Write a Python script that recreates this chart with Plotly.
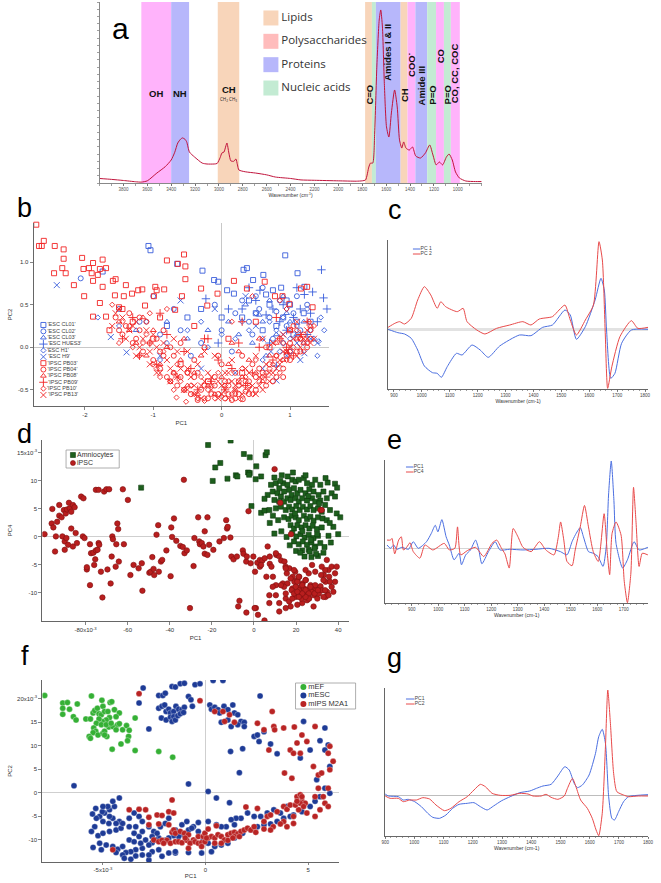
import plotly.graph_objects as go

W, H = 661, 883
FONT = "Liberation Sans, Arial, sans-serif"
SANS2 = "Open Sans, Noto Sans, sans-serif"
NARROW = "Liberation Sans Narrow, Arial Narrow, Liberation Sans, sans-serif"

# ======================= DATA =======================
# ---- panel a : FTIR spectrum ----
SPEC_WN = [4000, 3900, 3800, 3700, 3650, 3600, 3520, 3450, 3400, 3370, 3345, 3320, 3305, 3285, 3270, 3247,
           3205, 3140, 3100, 3040, 3015, 2990, 2975, 2958, 2942, 2933, 2917, 2900, 2875, 2858, 2845, 2833,
           2780, 2693, 2600, 2528, 2400, 2313, 2200, 2000, 1850, 1800, 1772, 1745, 1731, 1712, 1696, 1678,
           1658, 1645, 1631, 1615, 1597, 1577, 1556, 1529, 1507, 1488, 1469, 1453, 1434, 1406, 1379, 1352,
           1312, 1271, 1235, 1208, 1181, 1154, 1127, 1095, 1073, 1046, 1019, 987, 933, 852, 800]
SPEC_ABS = [0.025, 0.02, 0.014, 0.007, 0.005, 0.012, 0.055, 0.09, 0.127, 0.17, 0.221, 0.243, 0.249, 0.242, 0.227, 0.171,
            0.144, 0.11, 0.105, 0.105, 0.108, 0.14, 0.166, 0.171, 0.205, 0.221, 0.166, 0.122, 0.12, 0.133, 0.10, 0.072,
            0.062, 0.055, 0.045, 0.033, 0.025, 0.017, 0.015, 0.012, 0.010, 0.012, 0.017, 0.088, 0.11, 0.11, 0.276, 0.64,
            0.90, 0.956, 0.862, 0.55, 0.31, 0.254, 0.387, 0.514, 0.42, 0.238, 0.193, 0.227, 0.193, 0.182, 0.199, 0.149,
            0.138, 0.166, 0.21, 0.155, 0.10, 0.116, 0.10, 0.144, 0.16, 0.127, 0.061, 0.028, 0.011, 0.008, 0.008]
A_TICKS = [3800, 3600, 3400, 3200, 3000, 2800, 2600, 2400, 2200, 2000, 1800, 1600, 1400, 1200, 1000]
A_TICKTEXT = ["3800", "3600", "3400", "3200", "3000", "2800", "2600", "2400", "2200", "2000", "1800", "1600", "1400", "1200", "1000"]

# band ranges (cm-1) and band class
BAND_LO = [3400, 3250, 2830, 1719, 1686, 1479, 1421, 1355, 1256, 1182, 1116, 1058, 983]
BAND_HI = [3650, 3400, 3010, 1776, 1719, 1686, 1479, 1421, 1355, 1256, 1182, 1116, 1058]
BAND_KIND = ["mag", "prot", "lip", "lip", "nuc", "prot", "lip", "mag", "prot", "nuc", "mag", "nuc", "mag"]
BAND_COLORS = {"mag": "#ffb3fb", "prot": "#b7b7fb", "lip": "#f8d5ba", "nuc": "#c3ebd3"}
A_LEGEND = ["Lipids", "Polysaccharides", "Proteins", "Nucleic acids"]
A_LEGEND_COLORS = ["#f8d5ba", "#ffbcbc", "#b7b7fb", "#c3ebd3"]

# ---- panel b : PCA scores (PC1, PC2) ----
B_LABELS = ["'ESC CL01'", "'ESC CL02'", "'ESC CL03'", "'ESC HUES3'", "'ESC H1'", "'ESC H9'",
            "'IPSC PB03'", "'IPSC PB04'", "'IPSC PB08'", "'IPSC PB09'", "'IPSC PB10'", "'IPSC PB13'"]
B_ESC_CL01 = [(-1.07, 1.19), (-1.04, 1.14), (-0.65, 0.98), (-0.28, 0.90), (-0.11, 0.79), (-0.05, 0.77), (0.32, 0.91),
              (0.37, 0.93), (0.93, 1.08), (1.11, 0.87), (1.21, 0.71), (0.87, 0.70), (0.08, 0.67), (0.18, 0.63),
              (0.46, 0.79), (0.61, 0.85), (0.75, 0.67), (-1.74, 0.89), (0.50, 0.40), (0.70, 0.50), (0.90, 0.35),
              (1.00, 0.50), (1.20, 0.40), (0.30, 0.35), (0.60, 0.20), (0.80, 0.25), (1.10, 0.30), (-0.30, 0.45),
              (-0.50, 0.35), (0.00, 0.35), (0.95, 0.55), (1.05, 0.15), (0.40, 0.55), (-0.80, 0.25), (1.30, 0.30),
              (0.65, 0.62)]
B_ESC_CL02 = [(-2.06, 0.81), (-1.50, 0.45), (-1.20, 0.30), (-0.90, 0.15), (-0.60, 0.20), (-0.30, 0.05), (0.00, 0.20),
              (0.20, 0.40), (0.40, 0.30), (0.55, 0.45), (0.70, 0.35), (0.85, 0.55), (0.95, 0.25), (1.05, 0.40),
              (1.15, 0.20), (1.25, 0.50), (0.60, 0.70), (0.30, 0.55), (-0.10, 0.50), (-0.70, 0.45), (0.75, 0.10),
              (0.90, 0.05), (1.00, -0.05), (0.45, 0.15), (0.15, -0.05), (-0.45, -0.10), (0.80, 0.42), (1.10, 0.60),
              (0.50, 0.60), (-1.00, 0.60)]
B_ESC_CL03 = [(-0.80, 0.30), (-0.50, 0.10), (0.10, 0.30), (0.35, 0.50), (0.60, 0.30), (0.80, 0.15), (0.95, 0.40),
              (1.10, 0.15), (1.20, 0.30), (0.70, 0.55), (0.45, 0.05), (-0.20, 0.20), (0.90, 0.60), (1.00, 0.30),
              (0.55, 0.38), (-1.25, 0.20), (0.25, 0.15), (0.65, -0.10)]
B_ESC_HUES3 = [(1.46, 0.91), (1.49, 0.58), (1.54, 0.45), (1.21, 0.62), (1.33, 0.65), (0.56, 0.67), (-0.23, 0.57),
               (0.10, 0.45), (0.50, 0.55), (0.75, 0.45), (0.90, 0.50), (1.05, 0.35), (1.15, 0.45), (1.30, 0.40),
               (1.40, 0.30), (0.85, 0.30), (0.65, 0.38), (0.30, 0.45), (-0.05, 0.05), (0.70, 0.05), (1.25, 0.15),
               (0.95, 0.20), (0.40, 0.70), (1.10, 0.70), (0.80, -0.22)]
B_ESC_H1 = [(1.42, 0.07), (-1.81, 0.35), (1.50, 0.20), (1.35, 0.10), (1.20, 0.05), (1.00, 0.10), (0.80, 0.20),
            (0.60, 0.10), (0.40, 0.20), (0.20, 0.10), (-0.20, 0.00), (-0.50, 0.20), (-0.80, 0.05), (-1.10, 0.30),
            (-1.50, 0.25), (0.90, 0.35), (1.10, 0.25), (1.30, 0.20), (0.70, 0.30), (0.50, 0.40), (0.30, 0.30),
            (0.00, 0.15), (1.45, 0.35), (1.25, 0.45), (0.95, 0.45), (-0.30, 0.30), (0.60, -0.15), (0.85, -0.05),
            (1.40, -0.10), (-0.90, -0.15)]
B_ESC_H9 = [(-2.41, 0.73), (-1.62, 0.12), (-1.39, -0.06), (0.80, -0.39), (1.21, -0.07), (1.30, 0.10), (1.10, 0.05),
            (0.95, -0.10), (0.60, -0.25), (0.20, -0.30), (-0.30, -0.25), (-0.90, -0.10), (0.50, 0.25), (0.90, 0.15),
            (1.40, 0.05), (-0.10, 0.45), (0.35, 0.60), (1.15, -0.15), (0.72, -0.05), (-0.60, 0.55)]
B_IPSC_PB03 = [(-2.71, 1.44), (-2.67, 1.19), (-2.63, 1.19), (-2.60, 1.25), (-2.44, 1.19), (-2.45, 0.87), (-2.33, 0.93),
               (-2.31, 1.15), (-2.31, 1.04), (-2.28, 0.87), (-2.16, 0.73), (-2.04, 1.05), (-2.02, 0.92), (-2.01, 0.60),
               (-1.94, 0.93), (-1.88, 0.99), (-1.90, 0.87), (-1.88, 0.78), (-1.81, 0.85), (-1.78, 0.92), (-1.74, 1.03),
               (-1.69, 0.93), (-1.74, 0.71), (-1.59, 0.78), (-1.55, 0.80), (-1.40, 0.73), (-1.43, 0.60), (-1.31, 0.63),
               (-1.22, 0.67), (-1.16, 0.68), (-1.12, 0.49), (-0.97, 0.71), (-0.95, 0.67), (-0.99, 0.60), (-0.84, 0.68),
               (-0.80, 1.02), (-0.68, 0.44), (-0.64, 0.98), (-0.55, 1.09), (-0.53, 0.95), (-0.53, 0.80), (-0.58, 0.60),
               (-0.30, 0.69), (-0.21, 0.49), (-0.06, 0.63), (0.18, 0.78), (0.37, 0.69), (0.63, 0.77), (0.78, 0.60),
               (0.89, 0.60), (1.16, 0.69), (1.25, 0.71), (0.99, 0.51), (1.33, 0.47), (-1.50, 0.47), (-1.64, 0.20),
               (-1.88, 0.36), (-1.78, 0.52), (-1.56, 0.61), (-1.69, 0.36), (-1.30, 0.30), (-1.00, 0.10), (-0.60, -0.20),
               (-0.20, -0.40), (0.30, -0.30), (0.70, 0.00), (1.00, 0.20), (-0.90, 0.35), (-0.40, 0.25), (0.10, 0.10),
               (0.50, 0.30), (-1.45, 0.45)]
B_IPSC_PB04 = [(-1.55, 0.35), (-1.45, 0.15), (-1.35, 0.40), (-1.30, 0.05), (-1.20, 0.20), (-1.15, -0.05), (-1.10, 0.30),
               (-1.00, -0.15), (-0.95, 0.10), (-0.90, -0.25), (-0.85, 0.20), (-0.80, -0.35), (-0.70, -0.10), (-0.65, -0.45),
               (-0.60, 0.05), (-0.50, -0.30), (-0.45, -0.55), (-0.40, -0.15), (-0.30, -0.50), (-0.25, 0.00), (-0.20, -0.60),
               (-0.10, -0.35), (-0.05, -0.55), (0.00, -0.20), (0.05, -0.60), (0.10, -0.45), (0.20, -0.30), (0.25, -0.55),
               (0.30, -0.10), (0.40, -0.40), (0.45, -0.20), (0.50, -0.50), (0.60, -0.30), (0.65, 0.00), (0.70, -0.20),
               (0.80, -0.10), (0.85, 0.10), (0.90, -0.25), (1.00, 0.05), (1.05, 0.25), (1.10, -0.05), (1.20, 0.15),
               (1.30, 0.20), (-0.75, -0.40), (0.35, -0.52), (0.15, -0.62), (-0.35, -0.62), (0.31, -0.61),
               (-1.40, 0.25), (-1.25, 0.10), (-0.90, -0.05), (-0.70, -0.30), (-0.55, -0.50), (-0.35, -0.30), (-0.15, -0.55),
               (0.05, -0.40), (0.25, -0.40), (0.40, -0.55), (0.55, -0.25), (0.75, -0.40), (0.95, -0.10), (1.15, 0.10),
               (1.25, 0.00), (-0.05, -0.10),
               (-1.50, 0.20), (-1.20, 0.35), (-1.05, 0.05), (-0.85, -0.10), (-0.75, 0.00), (-0.60, -0.35), (-0.40, -0.35),
               (-0.25, -0.45), (-0.10, -0.45), (0.10, -0.55), (0.20, -0.60), (0.35, -0.40), (0.50, -0.35), (0.65, -0.45),
               (0.80, -0.35), (0.90, -0.35), (1.00, -0.15), (1.15, -0.05), (1.30, 0.10)]
B_IPSC_PB08 = [(-1.50, 0.30), (-1.35, 0.20), (-1.25, 0.05), (-1.10, -0.10), (-1.00, 0.20), (-0.90, -0.20), (-0.80, 0.00),
               (-0.70, -0.30), (-0.60, -0.15), (-0.50, -0.45), (-0.40, -0.30), (-0.30, -0.10), (-0.20, -0.45), (-0.10, -0.55),
               (0.00, -0.35), (0.10, -0.20), (0.20, -0.50), (0.30, -0.35), (0.40, -0.15), (0.50, -0.30), (0.60, -0.40),
               (0.70, -0.10), (0.80, 0.05), (0.90, -0.15), (1.00, 0.20), (1.10, 0.10), (1.20, 0.05), (1.30, 0.25),
               (-0.55, 0.10), (0.15, 0.05), (0.55, 0.10), (-1.15, 0.35), (0.95, -0.05), (-0.35, -0.55), (0.25, -0.05)]
B_IPSC_PB09 = [(-1.45, 0.10), (-1.30, 0.35), (-1.20, -0.10), (-1.05, 0.05), (-0.95, -0.20), (-0.80, 0.15), (-0.65, -0.35),
               (-0.55, -0.05), (-0.45, -0.25), (-0.35, -0.50), (-0.25, 0.10), (-0.15, -0.40), (-0.05, -0.15), (0.05, -0.50),
               (0.15, -0.25), (0.25, 0.05), (0.35, -0.45), (0.45, -0.30), (0.55, 0.00), (0.65, -0.35), (0.75, -0.15),
               (0.85, 0.10), (0.95, 0.00), (1.05, -0.10), (1.15, 0.15), (1.25, 0.30), (-0.90, 0.40), (0.30, 0.30),
               (-0.20, 0.10), (0.80, 0.35)]
B_IPSC_PB10 = [(-1.60, 0.50), (-1.50, 0.05), (-1.35, 0.25), (-1.20, -0.10), (-1.10, 0.15), (-0.95, -0.25), (-0.85, -0.05),
               (-0.75, -0.40), (-0.65, -0.20), (-0.55, -0.50), (-0.50, -0.30), (-0.40, -0.55), (-0.30, -0.35), (-0.25, -0.60),
               (-0.15, -0.45), (-0.05, -0.30), (0.00, -0.58), (0.10, -0.40), (0.20, -0.55), (0.30, -0.25), (0.40, -0.45),
               (0.50, -0.15), (0.60, -0.35), (0.70, -0.25), (0.80, -0.10), (0.90, 0.05), (1.00, -0.05), (1.10, 0.20),
               (1.25, 0.05), (1.35, 0.25), (-0.66, -0.59), (-0.52, -0.64), (-0.25, -0.63), (0.95, 0.45), (0.85, 0.55),
               (1.28, 0.30), (-1.05, 0.40), (0.45, 0.60), (-0.80, 0.45), (0.15, 0.30), (0.28, -0.61),
               (-1.45, 0.30), (-1.30, 0.00), (-1.15, 0.05), (-1.00, -0.20), (-0.90, -0.35), (-0.70, -0.50), (-0.60, -0.40),
               (-0.45, -0.45), (-0.35, -0.60), (-0.20, -0.50), (-0.10, -0.60), (0.05, -0.45), (0.15, -0.55), (0.25, -0.45),
               (0.35, -0.35), (0.45, -0.55), (0.55, -0.40), (0.65, -0.30), (0.75, -0.20), (0.85, -0.30), (0.95, -0.15),
               (1.05, 0.00), (1.15, 0.10), (1.20, -0.05)]
B_IPSC_PB13 = [(-1.60, 0.25), (-1.50, 0.45), (-1.40, 0.10), (-1.30, 0.25), (-1.25, -0.10), (-1.15, 0.10), (-1.05, -0.20),
               (-1.00, 0.15), (-0.90, -0.30), (-0.85, 0.05), (-0.75, -0.40), (-0.70, 0.10), (-0.60, -0.25), (-0.55, -0.50),
               (-0.50, -0.05), (-0.40, -0.45), (-0.35, -0.20), (-0.30, -0.60), (-0.20, -0.30), (-0.15, -0.50), (-0.10, -0.10),
               (0.00, -0.45), (0.05, -0.30), (0.10, -0.60), (0.15, -0.15), (0.25, -0.40), (0.30, -0.55), (0.35, -0.25),
               (0.45, -0.45), (0.50, -0.10), (0.55, -0.35), (0.65, -0.20), (0.70, -0.40), (0.75, 0.05), (0.85, -0.15),
               (0.90, 0.15), (0.95, -0.05), (1.05, 0.10), (1.10, 0.30), (1.15, 0.00), (1.25, 0.20), (1.35, 0.10),
               (-0.25, -0.05), (0.20, -0.50), (0.60, 0.10), (-1.20, 0.00), (-1.05, -0.05), (-0.95, -0.30), (-0.75, -0.25),
               (-0.65, -0.05), (-0.45, -0.35), (-0.25, -0.40), (-0.05, -0.40), (0.10, -0.30), (0.20, -0.45), (0.40, -0.30),
               (0.55, -0.45), (0.75, -0.30), (0.85, -0.20), (1.00, -0.10), (1.20, 0.10), (1.30, 0.05), (-1.35, 0.20),
               (-1.55, 0.40), (-0.50, -0.50), (0.00, -0.55), (0.50, -0.55),
               (-1.45, 0.35), (-1.25, 0.30), (-1.10, 0.20), (-0.95, 0.00), (-0.80, -0.15), (-0.65, -0.35), (-0.50, -0.25),
               (-0.40, -0.55), (-0.30, -0.45), (-0.15, -0.35), (-0.05, -0.60), (0.05, -0.50), (0.15, -0.40), (0.30, -0.45),
               (0.40, -0.50), (0.60, -0.50), (0.70, -0.30), (0.80, -0.25), (0.90, -0.05), (1.00, 0.00), (1.10, -0.10),
               (1.25, 0.10)]
B_SERIES = [B_ESC_CL01, B_ESC_CL02, B_ESC_CL03, B_ESC_HUES3, B_ESC_H1, B_ESC_H9,
            B_IPSC_PB03, B_IPSC_PB04, B_IPSC_PB08, B_IPSC_PB09, B_IPSC_PB10, B_IPSC_PB13]
B_XTICKS = [-2, -1, 0, 1]
B_XTICKTEXT = ["-2", "-1", "0", "1"]
B_YTICKS = [-0.5, 0.0, 0.5, 1.0]
B_YTICKTEXT = ["-0.5", "0.0", "0.5", "1.0"]

# ---- panel c : loadings PC 1 / PC 2 ----
C_LABELS = ["PC 1", "PC 2"]
C_PC1_WN = [879, 914, 938, 962, 985, 1009, 1038, 1055, 1070, 1091, 1124, 1144, 1180, 1209, 1238, 1279, 1350, 1391,
            1433, 1468, 1513, 1532, 1554, 1586, 1621, 1642, 1654, 1662, 1677, 1692, 1716, 1751, 1811]
C_PC1 = [0, -10, -14, -27, -62, -110, -130, -132, -144, -112, -72, -77, -47, -62, -84, -50, -17, -19,
         6, 13, 58, 43, -30, 8, 88, 153, 118, -2, -147, -132, -42, -2, 0]
C_PC2_WN = [879, 903, 920, 938, 962, 985, 1009, 1032, 1055, 1068, 1085, 1127, 1148, 1162, 1197, 1226, 1268, 1315,
            1362, 1391, 1421, 1468, 1492, 1513, 1532, 1554, 1586, 1615, 1635, 1647, 1657, 1666, 1681, 1710, 1751, 1774, 1811]
C_PC2 = [6, 18, 23, 16, 33, 88, 128, 103, 63, 83, 68, 53, 63, 23, -2, -14, 3, 13,
         23, 13, 31, 38, 58, 73, 28, -17, 28, 73, 263, 208, -2, -177, -112, -22, 26, 3, 6]
WN_TICKS = [900, 1000, 1100, 1200, 1300, 1400, 1500, 1600, 1700, 1800]
WN_TICKTEXT = ["900", "1000", "1100", "1200", "1300", "1400", "1500", "1600", "1700", "1800"]

# ---- panel d : PC1 vs PC4 ----
D_LABELS = ["Amniocytes", "iPSC"]
D_AMNIO = [(-21.8, 16.4), (-11.1, 17.2), (-4.8, 14.8), (-2.0, 14.2), (5.5, 14.6), (6.1, 15.1), (-18.4, 12.4), (-16.0, 13.2),
           (-19.6, 10.0), (-12.6, 10.4), (-8.6, 11.0), (-7.9, 10.8), (-2.8, 11.5), (-2.0, 11.4), (-2.3, 11.1), (1.1, 12.6),
           (0.8, 10.3), (3.4, 10.8), (-1.2, 5.5), (3.4, 4.3), (5.0, 4.7), (7.3, 4.8), (9.7, 0.6), (9.7, 10.6), (13.2, 11.0),
           (-53.6, 8.8),
           (8.1, 9.3), (10.4, 9.6), (12.0, 8.7), (13.9, 9.6), (15.9, 9.3), (18.2, 10.2), (19.8, 9.9), (21.3, 10.2),
           (23.7, 10.5), (25.2, 9.6), (27.6, 9.3), (29.1, 10.2), (31.5, 9.3), (35.0, 9.7), (38.5, 9.5), (36.9, 7.8),
           (8.9, 8.1), (11.2, 7.8), (12.8, 7.2), (14.3, 8.1), (16.7, 8.4), (17.9, 7.5), (19.0, 8.7), (20.6, 7.8),
           (22.1, 8.4), (24.5, 7.8), (26.3, 8.5), (28.3, 8.1), (30.7, 7.5), (33.0, 8.1), (34.6, 6.9),
           (9.7, 6.6), (12.0, 6.3), (14.3, 6.3), (15.9, 6.9), (17.4, 6.6), (19.8, 6.9), (21.3, 6.3), (22.9, 6.9),
           (25.2, 6.5), (27.6, 6.9), (29.1, 6.3), (31.5, 6.5), (33.8, 5.7), (36.1, 4.8),
           (10.4, 5.1), (12.8, 5.4), (15.1, 4.8), (16.7, 5.4), (18.2, 4.9), (20.1, 5.5), (21.7, 4.8), (23.2, 5.4),
           (25.2, 4.9), (26.8, 5.5), (28.3, 4.8), (30.4, 5.1), (32.2, 4.5),
           (14.3, 3.5), (16.4, 3.2), (17.9, 3.8), (19.8, 3.5), (21.3, 3.0), (23.7, 3.8), (25.2, 3.2), (26.8, 3.6),
           (28.3, 2.9), (30.4, 3.5), (32.6, 3.3), (34.6, 3.0),
           (17.4, 2.1), (19.0, 1.5), (20.6, 2.1), (22.6, 1.7), (24.5, 2.1), (26.3, 1.5), (27.9, 2.0), (29.9, 1.4),
           (32.2, 1.7), (35.4, 0.2),
           (18.2, 0.7), (20.1, 0.1), (22.1, 0.5), (24.1, -0.1), (26.0, 0.4), (28.3, -0.2), (30.4, 0.2),
           (19.0, -0.8), (21.3, -1.3), (23.2, -0.8), (25.2, -1.4), (27.3, -1.0), (29.1, -1.7), (31.5, -1.1), (33.5, -1.8),
           (22.9, -2.4), (26.0, -2.3), (28.8, -2.0), (27.3, -3.6), (30.4, -3.4), (38.5, 7.2), (39.3, 4.2), (37.7, 1.8),
           (11.5, 3.0), (13.0, 1.0), (15.5, 0.0), (17.0, -1.5), (20.0, -2.5), (24.0, -3.5), (29.5, -3.0), (33.0, -2.8),
           (36.5, -1.0), (40.0, 0.5), (41.0, 3.5), (39.5, 8.8), (34.0, 10.5), (24.5, 11.0), (18.5, 11.5), (16.0, 10.8),
           (12.5, 10.0), (6.5, 7.5), (5.0, 6.8), (7.5, 2.5), (30.0, 0.5), (27.0, -0.5), (23.0, 1.0), (19.5, 4.2),
           (25.8, 7.3), (31.0, 6.0), (36.0, 2.5), (9.0, 3.8), (22.0, -2.8), (26.5, -2.6)]
D_IPSC = [(-99.5, 0.5), (-95.8, 5.0), (-96.1, 2.4), (-95.3, 1.7), (-94.1, 0.1), (-94.5, -2.6), (-93.5, 2.7), (-92.5, 3.8),
          (-92.5, 5.7), (-91.4, 3.5), (-91.0, 0.1), (-90.3, 4.8), (-89.9, -0.8), (-89.9, -2.3), (-89.4, 4.2), (-89.1, -0.2),
          (-88.8, 4.9), (-88.3, -1.4), (-87.9, 6.1), (-87.5, 5.1), (-86.8, 4.5), (-86.8, 1.5), (-86.0, 5.7), (-86.0, -1.7),
          (-85.2, 5.3), (-84.7, 0.7), (-84.1, -1.1), (-82.1, 7.2), (-81.0, 6.9), (-81.3, 0.1), (-80.5, -0.2), (-79.4, -5.8),
          (-79.4, -5.4), (-77.9, -1.3), (-77.9, -8.6), (-77.4, -2.9), (-76.3, -2.8), (-75.4, -4.0), (-75.1, -2.4),
          (-74.3, -2.3), (-75.1, 8.4), (-73.8, 8.4), (-73.8, -1.1), (-73.5, -1.4), (-72.7, -6.2), (-72.0, -10.8),
          (-75.9, -5.0), (-71.2, 8.1), (-70.1, 8.5), (-68.8, 8.5), (-69.6, -5.8), (-68.1, -8.3), (-67.6, -3.5),
          (-67.3, 0.1), (-67.0, -0.4), (-65.7, -5.3), (-65.4, -1.3), (-64.9, 2.4), (-64.5, 1.4), (-64.2, -4.4),
          (-62.3, 8.5), (-61.8, -1.3), (-59.9, 6.6), (-58.7, -6.8), (-57.2, -5.0), (-54.8, -5.6), (-53.3, -4.7),
          (-53.0, -9.6), (-49.7, -6.4), (-49.0, -6.2), (-48.3, -3.6), (-47.7, -5.7), (-47.4, -6.8), (-46.3, 0.4),
          (-45.5, 2.1), (-45.2, -6.2), (-44.2, -4.4), (-43.6, -4.1), (-41.6, -2.4), (-39.6, -7.0), (-39.3, 1.7),
          (-38.9, 0.0), (-38.0, 3.3), (-36.9, -0.7), (-35.0, -1.6), (-33.8, -1.8), (-33.3, 10.2), (-33.0, -2.9),
          (-31.9, -2.4), (-30.4, -12.7), (-28.7, -5.2), (-28.3, -0.2), (-26.5, 3.5), (-26.0, -0.8), (-25.7, -1.3),
          (-24.8, -1.1), (-24.0, -1.7), (-23.4, 1.0), (-23.4, -3.0), (-22.1, -3.2), (-22.1, 3.5), (-21.3, -1.4),
          (-19.3, -2.3), (-16.4, -0.8), (-14.3, -0.2), (-13.2, 3.0), (-12.8, 1.5), (-12.5, 1.8), (-11.2, -0.1),
          (-10.7, -3.5), (-9.7, -4.0), (-8.1, -3.5), (-6.9, -11.4), (-5.3, -2.4), (-5.0, -3.0), (-3.7, -4.4),
          (-3.4, -3.5), (-2.6, 4.6), (-1.6, -4.7), (-0.3, -3.5), (0.5, -6.2), (0.9, -12.7), (1.6, -4.6), (2.8, -5.3),
          (2.8, -4.1), (4.0, -4.2), (5.1, -3.8), (5.9, -7.1), (7.5, -4.8), (7.5, -3.5), (8.3, -5.3), (9.0, -7.1),
          (9.8, 12.1), (10.6, -3.2), (11.8, -3.4), (12.9, -4.2), (12.5, 6.1), (13.7, -8.3), (14.5, -4.4), (15.0, -5.3),
          (15.6, -6.5), (16.8, -5.6), (17.6, 0.5), (18.4, -7.1), (19.2, -8.0), (19.6, -6.2), (19.9, -8.9), (20.7, -7.7),
          (21.2, -9.5), (21.5, -7.1), (22.3, -10.7), (22.3, -8.9), (23.1, -8.3), (23.4, -9.8), (23.8, -9.2),
          (24.3, -10.4), (24.6, -7.7), (25.4, -9.4), (25.9, -10.1), (26.2, -11.0), (26.9, -8.6), (27.7, -9.8),
          (28.5, -10.4), (29.3, -9.2), (30.1, -11.0), (30.8, -10.1), (31.6, -8.8), (32.4, -9.5), (31.6, 4.8),
          (33.2, -6.8), (34.0, -10.7), (34.7, -9.8), (34.0, -8.0),
          (32.2, 4.8), (34.6, -4.1), (35.4, -5.9), (35.7, -7.1), (36.9, -5.3), (38.5, -8.0), (39.3, -5.3), (36.9, -8.9),
          (37.7, -9.8), (33.8, -9.5), (35.4, -10.4), (33.0, -10.7), (28.3, -12.4), (25.2, -11.3), (22.9, -11.8),
          (20.6, -12.1), (17.4, -12.4), (15.1, -12.7), (12.0, -13.3), (7.3, -11.8), (15.1, -11.0), (19.8, -10.7),
          (21.3, -9.5), (24.5, -9.5), (26.0, -10.1), (27.6, -8.9), (29.1, -8.6), (24.5, -7.7), (15.9, -8.3),
          (14.3, -8.9), (12.8, -8.6), (10.4, -8.6), (8.9, -8.9), (7.3, -10.4), (10.4, -10.4), (15.1, -10.1),
          (18.2, -9.2), (20.6, -8.0), (17.4, -7.4), (21.3, -7.1), (26.0, -6.5), (29.1, -6.2), (31.9, -6.8),
          (33.8, -5.9), (33.0, -7.7), (36.1, -8.0), (38.5, -6.5), (32.2, -5.3), (27.6, -5.0), (24.5, -5.9),
          (19.0, -5.9), (15.1, -5.6), (10.4, -2.9), (6.5, -1.7), (3.4, -5.0), (-7.5, -12.4), (-3.6, -13.5),
          (0.3, -12.7), (1.9, -13.9), (5.0, -14.9), (12.0, -11.8), (16.7, -11.5), (18.2, -11.0), (22.6, -11.0),
          (26.0, -11.0), (26.8, -8.9), (28.8, -10.1), (30.4, -9.5), (22.9, -8.6), (19.8, -8.9), (17.9, -9.5),
          (19.0, -10.1), (22.1, -10.4), (24.5, -10.7), (22.9, -10.1), (20.6, -9.8), (21.3, -10.7)]
D_XTICKS = [-80, -60, -40, -20, 0, 20, 40]
D_XTICKTEXT = ["-80x10<sup>-3</sup>", "-60", "-40", "-20", "0", "20", "40"]
D_YTICKS = [-10, -5, 0, 5, 10, 15]
D_YTICKTEXT = ["-10", "-5", "0", "5", "10", "15x10<sup>-3</sup>"]

# ---- panel e : loadings PC1 / PC4 ----
E_LABELS = ["PC1", "PC4"]
E_PC1_WN = [807, 820, 832, 844, 863, 888, 906, 925, 956, 974, 989, 999, 1014, 1030, 1042, 1060, 1079, 1088, 1104, 1122,
            1141, 1153, 1165, 1190, 1215, 1233, 1270, 1320, 1369, 1418, 1461, 1486, 1505, 1517, 1536, 1548, 1567, 1585,
            1603, 1622, 1634, 1643, 1653, 1663, 1671, 1696, 1714, 1739, 1758, 1791]
E_PC1 = [10, 0, 10, -3, 3, -3, 20, 0, 20, 45, 70, 50, 87, 35, 10, -35, -15, -50, -20, -5,
         25, -3, -47, -10, 20, -5, -3, -5, -3, 0, -10, -20, 20, 40, 63, 35, -10, -15,
         -25, -55, 5, 165, 265, 145, 15, -60, -35, 20, -5, 3]
E_PC4_WN = [807, 820, 826, 836, 851, 861, 869, 881, 894, 906, 931, 950, 980, 1023, 1042, 1063, 1073, 1085, 1110, 1141,
            1172, 1203, 1221, 1239, 1252, 1268, 1283, 1301, 1320, 1351, 1382, 1406, 1437, 1453, 1462, 1474, 1486, 1505,
            1517, 1536, 1552, 1567, 1585, 1604, 1626, 1638, 1647, 1656, 1671, 1690, 1702, 1714, 1727, 1737, 1746, 1758,
            1770, 1791]
E_PC4 = [25, 25, 30, -17, 25, 35, -5, 3, 17, -10, -30, 10, -5, 15, -5, 0, 65, -20, -7, 3,
         -25, 15, 25, 0, -17, -60, 60, 35, 3, -10, 20, -5, -20, 33, 80, 25, -40, -53,
         -5, 65, 130, 65, -10, -40, 105, -15, -80, 45, 80, 40, -100, -165, -75, 185, 85, -55,
         -15, -20]
E_TICKS = [900, 1000, 1100, 1200, 1300, 1400, 1500, 1600, 1700]
E_TICKTEXT = ["900", "1000", "1100", "1200", "1300", "1400", "1500", "1600", "1700"]

# ---- panel f : PC1 vs PC2 (mouse cells) ----
F_LABELS = ["mEF", "mESC", "mIPS M2A1"]
F_MEF = [(-7.84, 20.7), (-6.96, 19.1), (-6.73, 19.2), (-6.25, 18.9), (-5.56, 20.6), (-5.05, 19.7), (-4.65, 19.2),
         (-4.57, 19.4), (-6.96, 18.0), (-6.63, 17.8), (-6.96, 16.7), (-6.44, 16.2), (-6.31, 15.5), (-5.83, 15.7),
         (-5.61, 15.7), (-5.48, 17.0), (-5.40, 17.5), (-5.27, 18.0), (-5.00, 18.4), (-5.19, 16.8), (-5.08, 16.6),
         (-4.92, 17.3), (-4.76, 17.3), (-4.44, 17.7), (-4.20, 17.0), (-4.36, 16.2), (-4.68, 16.0), (-4.84, 15.5),
         (-5.03, 15.2), (-5.19, 15.7), (-5.32, 14.8), (-5.45, 13.8), (-5.35, 13.1), (-5.48, 12.8), (-5.67, 12.0),
         (-5.61, 11.6), (-5.24, 12.3), (-5.00, 12.7), (-4.92, 13.1), (-4.71, 14.0), (-4.52, 14.1), (-4.28, 14.5),
         (-4.20, 14.7), (-4.81, 12.0), (-4.92, 12.3), (-5.08, 14.5), (-4.84, 14.5), (-4.60, 14.8), (-4.36, 13.4),
         (-4.04, 13.4), (-3.85, 14.3), (-3.72, 13.3), (-3.75, 12.0), (-3.80, 11.1), (-4.12, 10.4), (-4.55, 9.3),
         (-3.43, 15.9), (-3.43, 9.0), (-2.28, 8.8), (-1.60, 7.6)]
F_MESC = [(-3.04, 22.3), (-3.24, 19.1), (-2.28, 20.7), (-2.08, 20.7), (-1.96, 21.2), (-1.63, 22.6), (-1.47, 22.5),
          (-1.23, 23.2), (-1.03, 23.3), (-0.51, 23.0), (-0.27, 23.2), (0.37, 23.9), (0.85, 23.9), (-2.28, 18.0),
          (-2.12, 18.4), (-1.99, 18.7), (-1.92, 17.3), (-1.79, 17.8), (-1.71, 17.0), (-1.55, 17.3), (-1.44, 18.4),
          (-1.31, 17.8), (-1.15, 17.7), (-1.03, 18.2), (-0.83, 20.5), (-0.71, 19.8), (-0.64, 18.4), (-2.15, 15.9),
          (-1.92, 15.5), (-1.71, 16.1), (-1.63, 15.2), (-1.55, 16.2), (-1.47, 15.5), (-1.35, 16.4), (-1.23, 16.8),
          (-1.07, 17.1), (0.21, 18.7), (0.29, 17.8), (0.45, 18.2), (0.61, 17.7), (0.69, 17.0), (0.90, 18.4),
          (1.09, 17.7), (1.33, 18.7), (1.41, 17.0), (1.57, 16.6), (1.73, 15.2), (1.89, 15.0), (0.77, 15.0),
          (1.09, 15.5), (1.25, 14.1), (1.57, 14.5), (1.89, 14.1), (2.66, 20.6), (2.85, 13.0), (2.37, 12.0),
          (2.53, 12.3), (2.61, 10.9), (3.17, 10.4), (3.49, 8.3), (1.22, 8.8), (1.81, 9.4), (1.65, 4.3),
          (-0.83, 1.9), (0.13, 0.3), (0.53, -1.1), (1.17, -2.1), (-2.76, 13.6), (-6.41, 1.5), (4.78, 15.2),
          (5.82, 13.8), (5.58, 11.1), (5.98, 10.2), (5.82, 9.1), (5.10, 9.1), (4.62, 7.4), (6.06, 5.6), (5.42, 2.8),
          (5.82, 1.0), (6.06, -0.1), (5.58, -0.8), (5.34, -1.8), (5.10, -2.9), (4.70, -4.0), (4.29, -4.7),
          (3.97, -2.9), (4.13, -5.0), (3.65, -4.3), (3.33, -3.6), (3.01, -4.3), (2.69, -5.0), (2.37, -5.0),
          (2.05, -4.3), (1.73, -5.4), (1.49, -5.4), (1.25, -5.7), (1.41, -6.8), (1.01, -7.2), (0.77, -7.2),
          (0.53, -6.8), (0.13, -6.1), (-0.35, -6.3), (-0.59, -7.2), (-0.83, -7.9), (-1.07, -8.9), (-1.31, -9.3),
          (-1.55, -9.1), (-1.79, -9.6), (-1.96, -10.1), (-2.28, -9.6), (-2.44, -10.0), (-2.60, -10.6), (-2.76, -11.1),
          (-3.08, -11.8), (-3.40, -12.1), (-3.64, -12.5), (-3.88, -12.7), (-4.04, -13.2), (-4.28, -12.0),
          (-4.52, -11.4), (-4.84, -11.1), (-5.16, -10.7), (-5.24, -9.1), (-5.00, -8.6), (-4.68, -8.2), (-4.36, -7.9),
          (-4.12, -7.5), (-4.20, -6.1), (-4.52, -5.4), (-4.71, -6.5), (-5.00, -6.1), (-5.16, -5.0), (-4.92, -4.3),
          (-4.68, -3.6), (-4.44, -2.9), (-4.20, -1.1), (-4.52, -1.8), (-4.76, -2.9), (-5.03, -4.0), (-5.32, -5.4),
          (-5.40, -7.2), (-5.56, -8.2), (-5.51, -4.5), (-5.35, -3.3), (-5.00, -2.9), (-4.68, -5.0), (-4.36, -6.5),
          (-4.04, -6.5), (-3.72, -7.2), (-3.48, -8.6), (-3.24, -9.3), (-3.08, -8.2), (-3.40, -7.2), (-3.72, -5.4),
          (-3.48, -4.3), (-3.24, -5.0), (-3.08, -6.1), (-2.76, -7.2), (-2.52, -8.2), (-2.36, -8.6), (-2.20, -7.2),
          (-1.96, -6.5), (-1.79, -5.4), (-1.47, -7.9), (-1.15, -6.8), (-0.91, -6.1), (-0.67, -7.5), (-0.35, -8.2),
          (-0.11, -10.0), (0.13, -10.7), (0.45, -11.4), (0.77, -11.1), (1.09, -10.7), (1.41, -9.6), (1.81, -8.6),
          (2.21, -7.9), (2.53, -7.2), (2.85, -6.8), (3.17, -6.6), (3.49, -6.1), (3.81, -5.4), (-5.48, -11.6),
          (-5.08, -12.1), (-4.36, -12.7), (-3.96, -13.9), (-3.64, -14.1), (-2.76, -14.3), (-2.12, -13.5),
          (-1.47, -12.8), (-0.83, -12.7), (-0.19, -12.8), (0.29, -12.5), (-1.47, -12.5), (-1.79, -12.8),
          (-2.28, -12.1), (-2.60, -12.5), (-2.76, -13.2), (-3.08, -13.2), (-3.40, -13.4), (-4.04, -11.4),
          (-3.72, -10.0), (-3.48, -10.4), (-3.16, -10.7), (-2.92, -10.0), (-2.60, -9.3)]
F_MIPS = [(-3.24, 21.1), (-0.27, 19.6), (0.45, 17.3), (0.85, 17.3), (1.17, 16.6), (0.93, 15.2), (3.25, 17.3),
          (3.33, 14.1), (3.37, 13.4), (2.85, 13.4), (2.53, 14.8), (1.41, 15.0), (3.81, 13.8), (4.33, 14.0),
          (4.70, 12.3), (4.94, 10.9), (4.46, 10.6), (4.13, 9.1), (4.29, 8.4), (4.62, 8.4), (3.09, 9.1), (3.85, 4.2),
          (4.21, 3.1), (5.26, 5.6), (5.50, 3.8), (5.66, 4.2), (5.34, 14.1), (6.22, 6.7), (5.98, 8.4), (6.06, 4.9),
          (6.06, 9.9), (-3.72, -3.6), (-3.24, -3.5), (-2.92, -3.6), (-2.76, -5.2), (-2.36, -4.7), (-2.12, -4.8),
          (-1.79, -4.0), (-1.55, -4.3), (-1.63, -1.5), (-2.76, -6.8), (-2.28, -6.6), (-1.79, -6.8), (-1.63, -8.4),
          (-1.55, -7.9), (-1.47, -8.6), (-1.23, -8.2), (-1.03, -8.6), (-0.83, -8.9), (-0.59, -10.0), (-0.35, -9.3),
          (-0.11, -9.3), (-0.03, -8.6), (0.13, -7.7), (0.53, -7.0), (-4.52, -12.1), (-2.52, -10.0), (-2.28, -10.4),
          (-2.12, -10.1), (-1.88, -10.1), (-1.71, -10.7), (-1.47, -10.4), (-1.31, -10.4), (-1.15, -10.6),
          (-0.91, -10.1), (-0.75, -10.7), (-0.51, -10.4), (-0.35, -10.7), (-0.19, -10.6), (-0.03, -10.4),
          (0.13, -9.6), (0.29, -9.3), (0.45, -9.6), (0.61, -8.9), (0.77, -9.3), (0.93, -10.0), (1.09, -8.9),
          (1.25, -8.6), (1.41, -8.4), (1.57, -8.7), (1.73, -8.2), (1.89, -7.9), (2.05, -7.5), (2.21, -7.9),
          (2.37, -7.2), (2.45, -8.4), (1.97, -3.0), (2.53, -3.3), (3.01, -5.0), (2.85, -6.1), (3.17, -4.7),
          (3.49, -4.0), (3.81, -2.9), (3.97, -3.5), (4.13, -2.6), (4.29, -5.0), (4.46, -0.8), (4.62, -0.4),
          (4.70, -1.8), (4.86, -2.2), (4.94, -4.3), (4.54, -3.6), (4.38, -2.6), (5.34, -0.8), (5.50, 1.0),
          (5.74, -0.8), (5.82, -2.2), (5.98, -2.9), (5.34, -5.0), (5.58, -3.6), (5.98, 1.0), (4.29, -6.5),
          (3.97, -7.2), (3.81, -6.1), (3.65, -6.6), (3.30, -7.2), (3.17, -7.9), (2.85, -7.7), (0.45, -10.7),
          (0.77, -10.7), (-0.19, -11.4), (-0.83, -11.8), (1.41, -9.3), (1.65, -9.3), (1.09, -10.1), (1.33, -9.6),
          (0.05, -9.6), (-0.99, -9.6), (-2.04, -10.7), (4.70, -0.8), (4.62, -2.2), (4.46, -1.8), (4.78, -2.9)]
F_XTICKS = [-5, 0, 5]
F_XTICKTEXT = ["-5x10<sup>-3</sup>", "0", "5"]
F_YTICKS = [-10, -5, 0, 5, 10, 15, 20]
F_YTICKTEXT = ["-10", "-5", "0", "5", "10", "15", "20x10<sup>-3</sup>"]

# ---- panel g : loadings PC1 / PC2 ----
G_LABELS = ["PC1", "PC2"]
G_PC1_WN = [900, 911, 945, 962, 979, 1001, 1024, 1046, 1063, 1086, 1108, 1131, 1153, 1181, 1204, 1226, 1249, 1271,
            1299, 1328, 1361, 1395, 1418, 1440, 1468, 1491, 1515, 1530, 1547, 1558, 1575, 1598, 1620, 1631, 1643,
            1654, 1665, 1676, 1685, 1699, 1716, 1733, 1800]
G_PC1 = [4, -2, -4, -14, -12, -19, -34, -54, -66, -69, -59, -39, -27, -24, -22, -34, -44, -32,
         -16, -4, 8, 13, 21, 28, 33, 58, 86, 76, 36, 23, 31, 61, 126, 176, 198,
         156, -4, -69, -74, -49, -19, -4, 2]
G_PC2_WN = [900, 917, 945, 962, 984, 1007, 1029, 1052, 1074, 1103, 1125, 1153, 1181, 1204, 1226, 1243, 1266, 1294,
            1328, 1361, 1389, 1406, 1434, 1451, 1468, 1491, 1513, 1524, 1541, 1553, 1569, 1592, 1609, 1622, 1631,
            1643, 1654, 1662, 1671, 1682, 1693, 1716, 1733, 1766, 1800]
G_PC2 = [-2, -9, -9, -19, -14, -14, -7, -11, -29, -46, -39, -19, -4, 16, 33, 26, 6, 0,
         0, 6, 4, -2, -2, 3, -6, -12, -2, 21, 51, 26, -14, -39, -69, -104, -121,
         -54, 146, 316, 216, 66, 11, 1, -4, -2, -2]

# ======================= STYLE / LAYOUT =======================
def px(x):
    return x / W


def py(y):
    return 1 - y / H


def dx(a, b):
    return [px(a), px(b)]


def dy(top, bot):
    return [py(bot), py(top)]


AXIS = dict(showgrid=False, showline=True, linecolor="#666", linewidth=1, ticks="outside", ticklen=3,
            tickwidth=0.8, tickcolor="#666", zeroline=False, fixedrange=True, ticklabeloverflow="allow")


def ax(**kw):
    d = dict(AXIS)
    d.setdefault("tickfont", dict(size=6, color="#333", family=FONT))
    d.update(kw)
    return d


def title(text, size=6, standoff=2):
    return dict(text=text, font=dict(size=size, color="#333", family=FONT), standoff=standoff)


fig = go.Figure()
layout = dict(width=W, height=H, margin=dict(l=0, r=0, t=0, b=0), paper_bgcolor="white",
              plot_bgcolor="rgba(0,0,0,0)", showlegend=False, hovermode=False,
              font=dict(family=FONT, color="#333"))
shapes = []
annotations = []

# ---------- panel a ----------
layout["xaxis"] = ax(domain=dx(97, 485), anchor="y", range=[4000, 800], tickvals=A_TICKS, ticktext=A_TICKTEXT,
                     tickfont=dict(size=4.5, color="#555", family=FONT), ticklen=2, linecolor="#888",
                     minor=dict(dtick=100, ticklen=1.5, ticks="outside", tickcolor="#888"),
                     title=title("Wavenumber (cm<sup>-1</sup>)", 5, 0))
layout["yaxis"] = ax(domain=dy(2, 183), anchor="x", range=[0, 1], showticklabels=False, dtick=0.04, ticklen=2,
                     linecolor="#888", tickcolor="#888")
for lo, hi, kind in zip(BAND_LO, BAND_HI, BAND_KIND):
    shapes.append(dict(type="rect", xref="x", yref="y domain", x0=lo, x1=hi, y0=0, y1=1,
                       fillcolor=BAND_COLORS[kind], line=dict(width=0), layer="below"))
fig.add_trace(go.Scatter(x=SPEC_WN, y=SPEC_ABS, mode="lines", xaxis="x", yaxis="y",
                         line=dict(color="#c0143c", width=1, shape="spline", smoothing=0.6)))

band_text = [  # (text, wavenumber, y in axis-domain, angle)
    ("OH", 3525, 0.497, 0), ("NH", 3325, 0.497, 0), ("CH", 2920, 0.515, 0),
    ("C=O", 1747, 0.486, -90), ("Amides I &amp; II", 1583, 0.72, -90), ("CH", 1450, 0.486, -90),
    ("COO<sup>-</sup>", 1388, 0.655, -90), ("Amide III", 1305, 0.541, -90), ("P=O", 1219, 0.486, -90),
    ("CO", 1149, 0.70, -90), ("P=O", 1087, 0.486, -90), ("CO, CC, COC", 1020, 0.608, -90)]
for t, xw, yd, ang in band_text:
    annotations.append(dict(text="<b>" + t + "</b>", x=xw, y=yd, xref="x", yref="y domain", showarrow=False,
                            textangle=ang, font=dict(size=9.5, color="#111", family=NARROW),
                            xanchor="center", yanchor="middle"))
annotations.append(dict(text="CH<sub>2</sub> CH<sub>3</sub>", x=2920, y=0.462, xref="x", yref="y domain",
                        showarrow=False, font=dict(size=4.5, color="#222", family=SANS2)))


# auxiliary axes used for the hand-placed legends
def legend_axes(i, x0, x1, top, bot, n):
    layout["xaxis%d" % i] = dict(domain=dx(x0, x1), range=[0, 1], visible=False, fixedrange=True,
                                 anchor="y%d" % i)
    layout["yaxis%d" % i] = dict(domain=dy(top, bot), range=[n - 0.5, -0.5], visible=False, fixedrange=True,
                                 anchor="x%d" % i)


legend_axes(8, 271, 400, 6.3, 99.7, len(A_LEGEND))
for i, (lab, col) in enumerate(zip(A_LEGEND, A_LEGEND_COLORS)):
    fig.add_trace(go.Scatter(x=[0], y=[i], mode="markers+text", text=[lab], textposition="middle right",
                             marker=dict(symbol="square", size=15, color=col), cliponaxis=False,
                             textfont=dict(size=11.5, color="#333", family=SANS2), xaxis="x8", yaxis="y8"))

# ---------- panel b ----------
layout["xaxis2"] = ax(domain=dx(30, 330), anchor="y2", range=[-2.75, 1.57], tickvals=B_XTICKS,
                      ticktext=B_XTICKTEXT, zeroline=True, zerolinecolor="#c8c8c8", zerolinewidth=1,
                      title=title("PC1", 6, 3))
layout["yaxis2"] = ax(domain=dy(223, 406), anchor="x2", range=[-0.69, 1.46], tickvals=B_YTICKS,
                      ticktext=B_YTICKTEXT, zeroline=True, zerolinecolor="#c8c8c8", zerolinewidth=1,
                      title=title("PC2", 6, 4))
B_BLUE, B_RED = "#3a5edb", "#f22424"
B_SYMBOLS = ["square-open", "circle-open", "triangle-up-open", "cross-thin-open", "diamond-open", "x-thin-open"] * 2
B_SIZES = [5, 5, 5, 6, 4, 6] * 2
B_COLORS = [B_BLUE] * 6 + [B_RED] * 6
for pts, sym, sz, col in zip(B_SERIES, B_SYMBOLS, B_SIZES, B_COLORS):
    fig.add_trace(go.Scatter(x=[p[0] for p in pts], y=[p[1] for p in pts], mode="markers", xaxis="x2", yaxis="y2",
                             marker=dict(symbol=sym, size=sz, color=col, line=dict(color=col, width=0.9)),
                             cliponaxis=False))
legend_axes(9, 40, 120, 321.8, 398.2, len(B_LABELS))
for i, (lab, sym, sz, col) in enumerate(zip(B_LABELS, B_SYMBOLS, B_SIZES, B_COLORS)):
    fig.add_trace(go.Scatter(x=[0], y=[i], mode="markers+text", text=[lab], textposition="middle right",
                             marker=dict(symbol=sym, size=sz, color=col, line=dict(color=col, width=0.9)),
                             textfont=dict(size=5.5, color="#444", family=FONT), cliponaxis=False,
                             xaxis="x9", yaxis="y9"))

# ---------- panel c ----------
C_BLUE, C_RED = "#4a6ee0", "#e84a4a"
layout["xaxis3"] = ax(domain=dx(390, 654), anchor="y3", range=[879, 1811], tickvals=WN_TICKS, ticktext=WN_TICKTEXT,
                      tickfont=dict(size=4.5, color="#444", family=FONT), ticklen=2,
                      minor=dict(dtick=20, ticklen=1.2, ticks="outside", tickcolor="#888"),
                      title=title("Wavenumber (cm-1)", 5, 1))
layout["yaxis3"] = ax(domain=dy(240, 389), anchor="x3", range=[-179, 268], showticklabels=False, ticks="",
                      zeroline=True, zerolinecolor="#e2e2e2", zerolinewidth=2.5)
fig.add_trace(go.Scatter(x=C_PC1_WN, y=C_PC1, mode="lines", xaxis="x3", yaxis="y3",
                         line=dict(color=C_BLUE, width=1, shape="spline", smoothing=0.6)))
fig.add_trace(go.Scatter(x=C_PC2_WN, y=C_PC2, mode="lines", xaxis="x3", yaxis="y3",
                         line=dict(color=C_RED, width=1, shape="spline", smoothing=0.6)))


def line_legend(i, x0, x1, top, bot, labels, colors):
    legend_axes(i, x0, x1, top, bot, len(labels))
    for k, (lab, col) in enumerate(zip(labels, colors)):
        fig.add_trace(go.Scatter(x=[0, 1], y=[k, k], mode="lines", line=dict(color=col, width=1),
                                 xaxis="x%d" % i, yaxis="y%d" % i, cliponaxis=False))
        fig.add_trace(go.Scatter(x=[1], y=[k], mode="text", text=[lab], textposition="middle right",
                                 textfont=dict(size=5, color="#444", family=FONT), cliponaxis=False,
                                 xaxis="x%d" % i, yaxis="y%d" % i))


line_legend(10, 415, 423, 246.5, 256.5, C_LABELS, [C_BLUE, C_RED])

# ---------- panel d ----------
layout["xaxis4"] = ax(domain=dx(39, 350), anchor="y4", range=[-100.5, 45], tickvals=D_XTICKS, ticktext=D_XTICKTEXT,
                      zeroline=True, zerolinecolor="#cfcfcf", zerolinewidth=1, title=title("PC1", 6, 3))
layout["yaxis4"] = ax(domain=dy(440, 621), anchor="x4", range=[-15, 17.3], tickvals=D_YTICKS, ticktext=D_YTICKTEXT,
                      zeroline=True, zerolinecolor="#cfcfcf", zerolinewidth=1, title=title("PC4", 6, 4))
D_GREEN, D_GREEN_EDGE, D_RED, D_RED_EDGE = "#1d5f1d", "#0e3a0e", "#b81e1e", "#801111"
fig.add_trace(go.Scatter(x=[p[0] for p in D_AMNIO], y=[p[1] for p in D_AMNIO], mode="markers", xaxis="x4", yaxis="y4",
                         marker=dict(symbol="square", size=5, color=D_GREEN, line=dict(color=D_GREEN_EDGE, width=0.6))))
fig.add_trace(go.Scatter(x=[p[0] for p in D_IPSC], y=[p[1] for p in D_IPSC], mode="markers", xaxis="x4", yaxis="y4",
                         marker=dict(symbol="circle", size=5.5, color=D_RED, line=dict(color=D_RED_EDGE, width=0.6))))
shapes.append(dict(type="rect", xref="paper", yref="paper", x0=px(63), x1=px(117), y0=py(468), y1=py(450),
                   line=dict(color="#999", width=0.8), fillcolor="white", layer="below"))
legend_axes(11, 70, 117, 451, 467, len(D_LABELS))
for k, (lab, sym, col, edge) in enumerate(zip(D_LABELS, ["square", "circle"], [D_GREEN, D_RED],
                                              [D_GREEN_EDGE, D_RED_EDGE])):
    fig.add_trace(go.Scatter(x=[0], y=[k], mode="markers+text", text=[lab], textposition="middle right",
                             marker=dict(symbol=sym, size=5, color=col, line=dict(color=edge, width=0.6)),
                             textfont=dict(size=7, color="#333", family=FONT), cliponaxis=False,
                             xaxis="x11", yaxis="y11"))

# ---------- panel e ----------
layout["xaxis5"] = ax(domain=dx(387, 654), anchor="y5", range=[800, 1792], tickvals=E_TICKS, ticktext=E_TICKTEXT,
                      tickfont=dict(size=4.5, color="#444", family=FONT), ticklen=2,
                      minor=dict(dtick=25, ticklen=1.2, ticks="outside", tickcolor="#888"),
                      title=title("Wavenumber (cm-1)", 5, 1))
layout["yaxis5"] = ax(domain=dy(460, 603), anchor="x5", range=[-166, 268], showticklabels=False, ticks="",
                      zeroline=True, zerolinecolor="#d5d5d5", zerolinewidth=1.5)
fig.add_trace(go.Scatter(x=E_PC1_WN, y=E_PC1, mode="lines", xaxis="x5", yaxis="y5",
                         line=dict(color=C_BLUE, width=1, shape="spline", smoothing=0.6)))
fig.add_trace(go.Scatter(x=E_PC4_WN, y=E_PC4, mode="lines", xaxis="x5", yaxis="y5",
                         line=dict(color=C_RED, width=1, shape="spline", smoothing=0.6)))
line_legend(12, 408, 416, 464.5, 474.5, E_LABELS, [C_BLUE, C_RED])

# ---------- panel f ----------
layout["xaxis6"] = ax(domain=dx(39, 340), anchor="y6", range=[-7.95, 6.5], tickvals=F_XTICKS, ticktext=F_XTICKTEXT,
                      ticklen=2, zeroline=True, zerolinecolor="#cfcfcf", zerolinewidth=1, title=title("PC1", 6, 1))
layout["yaxis6"] = ax(domain=dy(680, 862), anchor="x6", range=[-14.7, 24], tickvals=F_YTICKS, ticktext=F_YTICKTEXT,
                      zeroline=True, zerolinecolor="#cfcfcf", zerolinewidth=1, title=title("PC2", 6, 4))
F_GREEN, F_BLUE, F_RED = "#35b035", "#1e3b96", "#b92424"
for pts, col in zip([F_MEF, F_MESC, F_MIPS], [F_GREEN, F_BLUE, F_RED]):
    fig.add_trace(go.Scatter(x=[p[0] for p in pts], y=[p[1] for p in pts], mode="markers", xaxis="x6", yaxis="y6",
                             marker=dict(symbol="circle", size=6, color=col,
                                         line=dict(color="rgba(255,255,255,0.6)", width=0.5))))
shapes.append(dict(type="rect", xref="paper", yref="paper", x0=px(296), x1=px(357), y0=py(709), y1=py(683),
                   line=dict(color="#999", width=0.8), fillcolor="white", layer="below"))
legend_axes(13, 304, 357, 682.75, 708.25, len(F_LABELS))
for k, (lab, col) in enumerate(zip(F_LABELS, [F_GREEN, F_BLUE, F_RED])):
    fig.add_trace(go.Scatter(x=[0], y=[k], mode="markers+text", text=[lab], textposition="middle right",
                             marker=dict(symbol="circle", size=6, color=col),
                             textfont=dict(size=7.5, color="#333", family=FONT), cliponaxis=False,
                             xaxis="x13", yaxis="y13"))

# ---------- panel g ----------
layout["xaxis7"] = ax(domain=dx(387, 654), anchor="y7", range=[900, 1800], tickvals=WN_TICKS, ticktext=WN_TICKTEXT,
                      tickfont=dict(size=4.5, color="#444", family=FONT), ticklen=2,
                      minor=dict(dtick=20, ticklen=1.2, ticks="outside", tickcolor="#888"),
                      title=title("Wavenumber (cm-1)", 5, 1))
layout["yaxis7"] = ax(domain=dy(688, 836), anchor="x7", range=[-122, 322], showticklabels=False, ticks="",
                      zeroline=True, zerolinecolor="#bdbdbd", zerolinewidth=1)
fig.add_trace(go.Scatter(x=G_PC1_WN, y=G_PC1, mode="lines", xaxis="x7", yaxis="y7",
                         line=dict(color=C_BLUE, width=1, shape="spline", smoothing=0.6)))
fig.add_trace(go.Scatter(x=G_PC2_WN, y=G_PC2, mode="lines", xaxis="x7", yaxis="y7",
                         line=dict(color=C_RED, width=1, shape="spline", smoothing=0.6)))
line_legend(14, 408, 417, 696.5, 706.5, G_LABELS, [C_BLUE, C_RED])

# ---------- panel letters ----------
for letter, (lx, ly, size) in zip("abcdefg", [(118, 28, 30), (21, 208, 27), (397, 210, 27), (21, 434, 27),
                                            (397, 440, 27), (21, 656, 27), (397, 658, 27)]):
    annotations.append(dict(text=letter, x=px(lx), y=py(ly), xref="paper", yref="paper", showarrow=False,
                            xanchor="center", yanchor="middle", font=dict(size=size, color="black", family=FONT)))

layout["shapes"] = shapes
layout["annotations"] = annotations
fig.update_layout(**layout)
fig.write_html("out.html", config={"displayModeBar": False, "staticPlot": True},
               post_script="document.documentElement.style.margin='0';document.body.style.margin='0';"
                           "document.body.style.padding='0';document.body.style.overflow='hidden';")
